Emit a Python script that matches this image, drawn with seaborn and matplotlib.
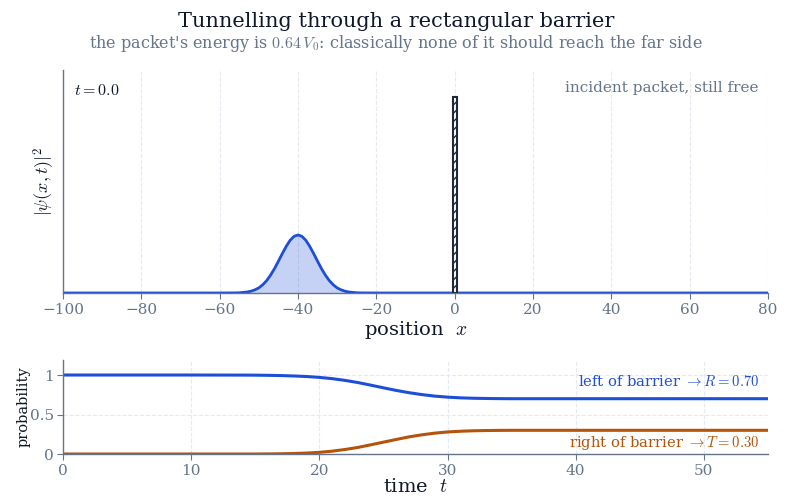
import numpy as np
import pandas as pd
import seaborn as sns
import matplotlib.pyplot as plt

# packet density |psi|^2 at t = 0 (barrier height = 1)
pos = [-100, -60, -57, -56, -55, -54, -53, -52, -51, -50, -49, -48, -47, -46, -45,
       -44, -43, -42, -41, -40, -39, -38, -37, -36, -35, -34, -33, -32, -31, -30,
       -29, -28, -27, -26, -25, -24, -23, -20, 80]
dens = [0.0, 0.0, 0.0003, 0.0005, 0.001, 0.003, 0.005, 0.009, 0.016, 0.026, 0.042,
        0.063, 0.091, 0.124, 0.162, 0.201, 0.238, 0.269, 0.289, 0.296, 0.289, 0.269,
        0.238, 0.201, 0.162, 0.124, 0.091, 0.063, 0.042, 0.026, 0.016, 0.009, 0.005,
        0.003, 0.001, 0.0005, 0.0003, 0.0, 0.0]

barrier_x = [0.0]
barrier_w = 1.0
barrier_h = [1.0]

# probability left / right of the barrier vs time
times = [0, 10, 14, 15, 16, 17, 18, 19, 20, 21, 22, 23, 24, 25, 26, 27, 28, 29, 30,
         31, 32, 33, 34, 35, 40, 55]
p_right = [0.0, 0.0, 0.0, 0.0, 0.001, 0.003, 0.006, 0.012, 0.021, 0.036, 0.057, 0.083,
           0.116, 0.150, 0.184, 0.217, 0.243, 0.264, 0.279, 0.288, 0.294, 0.297, 0.299,
           0.300, 0.300, 0.300]
p_left = [1.0, 1.0, 0.999, 0.998, 0.996, 0.993, 0.988, 0.981, 0.970, 0.954, 0.932, 0.905,
          0.872, 0.838, 0.805, 0.776, 0.752, 0.733, 0.720, 0.711, 0.706, 0.703, 0.701,
          0.700, 0.700, 0.700]

BLUE = '#1d4ed8'
ORANGE = '#b45309'
SLATE = '#64748b'
DARK = '#0f172a'
GRID = '#e5e9f0'

sns.set_theme(style='white')
plt.rcParams['font.family'] = ['DejaVu Serif']
plt.rcParams['mathtext.fontset'] = 'cm'

fig = plt.figure(figsize=(7.92, 5.04), dpi=100)
ax1 = fig.add_axes([0.0795, 0.4187, 0.8902, 0.4424])
ax2 = fig.add_axes([0.0795, 0.0992, 0.8902, 0.1865])

fig.text(0.5, 0.957, 'Tunnelling through a rectangular barrier', ha='center', va='center',
         fontsize=15, color=DARK)
fig.text(0.5, 0.914, "the packet's energy is $0.64\\,V_0$: classically none of it should reach the far side",
         ha='center', va='center', fontsize=11.5, color=SLATE)

# top panel
df_pk = pd.DataFrame({'x': pos, 'p': dens})
ax1.fill_between(df_pk['x'], df_pk['p'], color=BLUE, alpha=0.25, lw=0)
sns.lineplot(data=df_pk, x='x', y='p', ax=ax1, color=BLUE, lw=2)
ax1.bar(barrier_x, barrier_h, width=barrier_w, facecolor='white', edgecolor='#1e293b',
        hatch='////', lw=1.5, zorder=3)
ax1.set_xlim(-100, 80)
ax1.set_ylim(0, 1.138)
ax1.set_xticks(range(-100, 81, 20))
ax1.set_yticks([])
ax1.set_xlabel('position  $x$', fontsize=14, color=DARK, labelpad=1)
ax1.set_ylabel('$|\\psi(x,t)|^2$', fontsize=13, color=DARK)
ax1.grid(axis='x', ls='--', color=GRID, lw=0.8)
ax1.text(0.015, 0.91, '$t = 0.0$', transform=ax1.transAxes, fontsize=11.5, color=DARK,
         va='center', ha='left')
ax1.text(0.986, 0.92, 'incident packet, still free', transform=ax1.transAxes, fontsize=11,
         color=SLATE, va='center', ha='right')

# bottom panel
df_t = pd.DataFrame({'t': times, 'L': p_left, 'R': p_right})
sns.lineplot(data=df_t, x='t', y='L', ax=ax2, color=BLUE, lw=2.2)
sns.lineplot(data=df_t, x='t', y='R', ax=ax2, color=ORANGE, lw=2.2)
ax2.set_xlim(0, 55)
ax2.set_ylim(0, 1.19)
ax2.set_yticks([0, 0.5, 1])
ax2.set_yticklabels(['0', '0.5', '1'])
ax2.set_xlabel('time  $t$', fontsize=14, color=DARK, labelpad=0)
ax2.set_ylabel('probability', fontsize=10.5, color=DARK, labelpad=-0.5)
ax2.grid(True, ls='--', color=GRID, lw=0.8)
ax2.text(0.988, 0.77, 'left of barrier $\\rightarrow R = 0.70$', transform=ax2.transAxes,
         fontsize=10.6, color=BLUE, ha='right', va='center')
ax2.text(0.988, 0.12, 'right of barrier $\\rightarrow T = 0.30$', transform=ax2.transAxes,
         fontsize=10.6, color=ORANGE, ha='right', va='center')

for ax in (ax1, ax2):
    sns.despine(ax=ax)
    for s in ('left', 'bottom'):
        ax.spines[s].set_color(SLATE)
        ax.spines[s].set_linewidth(1)
    ax.tick_params(colors=SLATE, labelsize=11, length=4, width=0.8, bottom=True, left=True)
    ax.set_axisbelow(True)
ax1.tick_params(left=False)
ax2.tick_params(axis='y', pad=2.5)

fig.savefig('out.png', dpi=100)
